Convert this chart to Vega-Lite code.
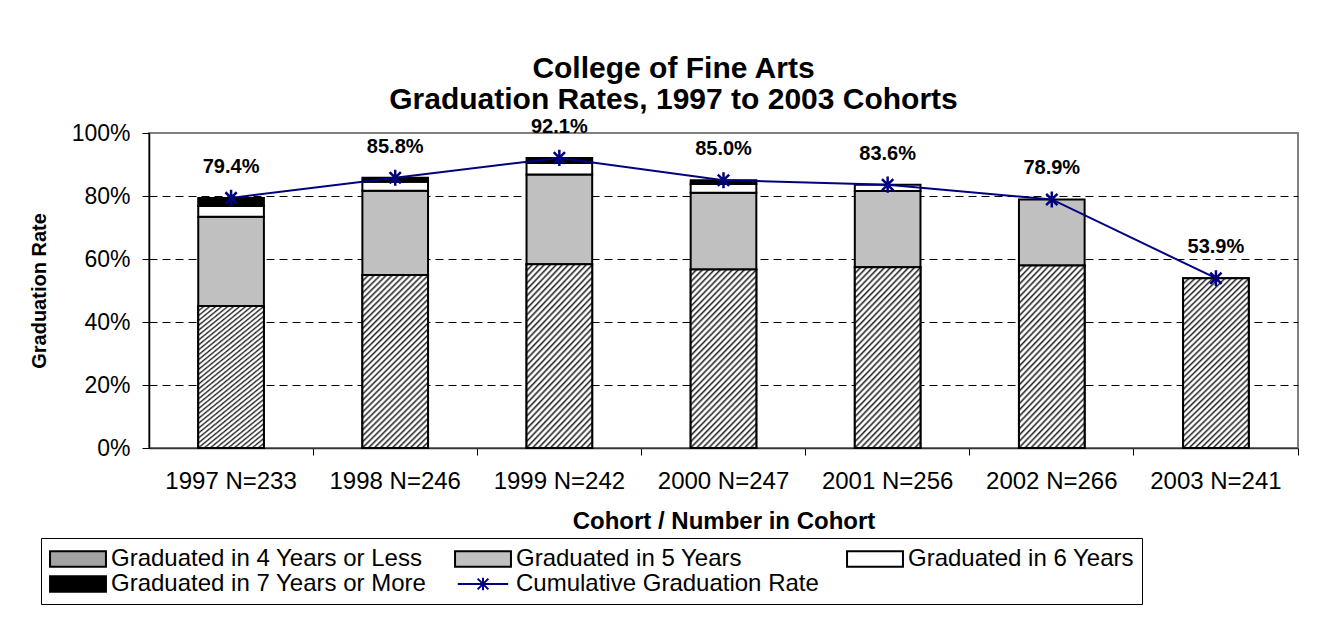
{
  "$schema": "https://vega.github.io/schema/vega-lite/v6.json",
  "autosize": "none",
  "width": 1149,
  "height": 315,
  "padding": {"left": 149, "top": 133, "right": 45, "bottom": 174},
  "background": "white",
  "config": {
    "font": "Liberation Sans",
    "view": {"stroke": "#808080", "strokeWidth": 2}
  },
  "title": {
    "text": ["College of Fine Arts", "Graduation Rates, 1997 to 2003 Cohorts"],
    "font": "Liberation Sans",
    "fontSize": 30,
    "fontWeight": "bold",
    "color": "black",
    "anchor": "middle",
    "frame": "group",
    "dx": -50,
    "offset": 2,
    "lineHeight": 31
  },
  "data": {
    "values": [
      {"cohort": "1997 N=233", "series": "Graduated in 4 Years or Less", "rate": 0.451},
      {"cohort": "1997 N=233", "series": "Graduated in 5 Years", "rate": 0.283},
      {"cohort": "1997 N=233", "series": "Graduated in 6 Years", "rate": 0.034},
      {"cohort": "1997 N=233", "series": "Graduated in 7 Years or More", "rate": 0.026},
      {"cohort": "1997 N=233", "series": "Cumulative Graduation Rate", "rate": 0.794},
      {"cohort": "1998 N=246", "series": "Graduated in 4 Years or Less", "rate": 0.549},
      {"cohort": "1998 N=246", "series": "Graduated in 5 Years", "rate": 0.268},
      {"cohort": "1998 N=246", "series": "Graduated in 6 Years", "rate": 0.028},
      {"cohort": "1998 N=246", "series": "Graduated in 7 Years or More", "rate": 0.013},
      {"cohort": "1998 N=246", "series": "Cumulative Graduation Rate", "rate": 0.858},
      {"cohort": "1999 N=242", "series": "Graduated in 4 Years or Less", "rate": 0.583},
      {"cohort": "1999 N=242", "series": "Graduated in 5 Years", "rate": 0.285},
      {"cohort": "1999 N=242", "series": "Graduated in 6 Years", "rate": 0.037},
      {"cohort": "1999 N=242", "series": "Graduated in 7 Years or More", "rate": 0.016},
      {"cohort": "1999 N=242", "series": "Cumulative Graduation Rate", "rate": 0.921},
      {"cohort": "2000 N=247", "series": "Graduated in 4 Years or Less", "rate": 0.567},
      {"cohort": "2000 N=247", "series": "Graduated in 5 Years", "rate": 0.243},
      {"cohort": "2000 N=247", "series": "Graduated in 6 Years", "rate": 0.028},
      {"cohort": "2000 N=247", "series": "Graduated in 7 Years or More", "rate": 0.012},
      {"cohort": "2000 N=247", "series": "Cumulative Graduation Rate", "rate": 0.850},
      {"cohort": "2001 N=256", "series": "Graduated in 4 Years or Less", "rate": 0.574},
      {"cohort": "2001 N=256", "series": "Graduated in 5 Years", "rate": 0.242},
      {"cohort": "2001 N=256", "series": "Graduated in 6 Years", "rate": 0.020},
      {"cohort": "2001 N=256", "series": "Cumulative Graduation Rate", "rate": 0.836},
      {"cohort": "2002 N=266", "series": "Graduated in 4 Years or Less", "rate": 0.579},
      {"cohort": "2002 N=266", "series": "Graduated in 5 Years", "rate": 0.210},
      {"cohort": "2002 N=266", "series": "Cumulative Graduation Rate", "rate": 0.789},
      {"cohort": "2003 N=241", "series": "Graduated in 4 Years or Less", "rate": 0.539},
      {"cohort": "2003 N=241", "series": "Cumulative Graduation Rate", "rate": 0.539}
    ]
  },
  "encoding": {
    "x": {
      "field": "cohort",
      "type": "nominal",
      "sort": null,
      "scale": {"paddingInner": 0.6, "paddingOuter": 0.3},
      "axis": {
        "title": "Cohort / Number in Cohort",
        "titleFontSize": 24,
        "titleFontWeight": "bold",
        "titleColor": "black",
        "titlePadding": 16,
        "labelAngle": 0,
        "labelFontSize": 24,
        "labelColor": "black",
        "labelPadding": 14,
        "labelLimit": 400,
        "tickSize": 7,
        "tickColor": "black",
        "tickWidth": 1,
        "bandPosition": 1.75,
        "domainColor": "#333333",
        "domainWidth": 1.5,
        "grid": false
      }
    }
  },
  "layer": [
    {
      "transform": [{"filter": "datum.series !== 'Cumulative Graduation Rate'"}],
      "mark": {"type": "bar", "stroke": "black", "strokeWidth": 2},
      "encoding": {
        "y": {
          "field": "rate",
          "type": "quantitative",
          "stack": "zero",
          "scale": {"domain": [0, 1], "nice": false},
          "axis": {
            "title": "Graduation Rate",
            "titleFontSize": 20,
            "titleFontWeight": "bold",
            "titleColor": "black",
            "titlePadding": 22,
            "values": [0, 0.2, 0.4, 0.6, 0.8, 1],
            "format": ".0%",
            "labelFontSize": 23,
            "labelColor": "black",
            "labelPadding": 12,
            "tickSize": 7,
            "tickColor": "black",
            "domainColor": "black",
            "domainWidth": 1.5,
            "grid": true,
            "gridColor": "black",
            "gridDash": [8, 5],
            "gridWidth": 1,
            "gridOpacity": {"condition": {"test": "datum.value <= 0 || datum.value >= 1", "value": 0}, "value": 1}
          }
        },
        "order": {"field": "series", "type": "nominal", "sort": "ascending"},
        "fill": {
          "field": "series",
          "type": "nominal",
          "scale": {
            "domain": ["Graduated in 4 Years or Less", "Graduated in 5 Years", "Graduated in 6 Years", "Graduated in 7 Years or More", "Cumulative Graduation Rate"],
            "range": ["#a3a3a3", "#c0c0c0", "#ffffff", "#000000", "transparent"]
          },
          "legend": {
            "title": null,
            "orient": "none",
            "legendX": -108,
            "legendY": 405,
            "direction": "horizontal",
            "columns": 3,
            "columnPadding": 24,
            "rowPadding": 0,
            "padding": 8,
            "strokeColor": "black",
            "fillColor": "white",
            "labelFontSize": 24,
            "labelColor": "black",
            "labelLimit": 600,
            "symbolSize": 576,
            "symbolOffset": 16,
            "labelOffset": 20,
            "symbolStrokeWidth": 2,
            "symbolType": {"expr": "datum.value === 'Cumulative Graduation Rate' ? 'M-2.1,0H2.1M0,-0.53V0.53M-0.45,-0.45L0.45,0.45M-0.45,0.45L0.45,-0.45' : 'M-2.33,-0.64H2.33V0.64H-2.33Z'"},
            "symbolStrokeColor": {"expr": "datum.value === 'Cumulative Graduation Rate' ? '#000080' : '#000000'"}
          }
        }
      }
    },
    {
      "transform": [{"filter": "datum.series === 'Graduated in 4 Years or Less'"}],
      "mark": {
        "type": "bar",
        "stroke": "black",
        "strokeWidth": 2,
        "fill": {
          "gradient": "linear", "x1": 0, "y1": 0, "x2": 0.455, "y2": 1.206,
          "stops": [
            {"offset": 0, "color": "#222"}, {"offset": 0.01, "color": "#fff"}, {"offset": 0.017, "color": "#fff"},
            {"offset": 0.025, "color": "#222"}, {"offset": 0.035, "color": "#fff"}, {"offset": 0.042, "color": "#fff"},
            {"offset": 0.05, "color": "#222"}, {"offset": 0.06, "color": "#fff"}, {"offset": 0.067, "color": "#fff"},
            {"offset": 0.075, "color": "#222"}, {"offset": 0.085, "color": "#fff"}, {"offset": 0.092, "color": "#fff"},
            {"offset": 0.1, "color": "#222"}, {"offset": 0.11, "color": "#fff"}, {"offset": 0.117, "color": "#fff"},
            {"offset": 0.125, "color": "#222"}, {"offset": 0.135, "color": "#fff"}, {"offset": 0.142, "color": "#fff"},
            {"offset": 0.15, "color": "#222"}, {"offset": 0.16, "color": "#fff"}, {"offset": 0.167, "color": "#fff"},
            {"offset": 0.175, "color": "#222"}, {"offset": 0.185, "color": "#fff"}, {"offset": 0.192, "color": "#fff"},
            {"offset": 0.2, "color": "#222"}, {"offset": 0.21, "color": "#fff"}, {"offset": 0.217, "color": "#fff"},
            {"offset": 0.225, "color": "#222"}, {"offset": 0.235, "color": "#fff"}, {"offset": 0.242, "color": "#fff"},
            {"offset": 0.25, "color": "#222"}, {"offset": 0.26, "color": "#fff"}, {"offset": 0.267, "color": "#fff"},
            {"offset": 0.275, "color": "#222"}, {"offset": 0.285, "color": "#fff"}, {"offset": 0.292, "color": "#fff"},
            {"offset": 0.3, "color": "#222"}, {"offset": 0.31, "color": "#fff"}, {"offset": 0.317, "color": "#fff"},
            {"offset": 0.325, "color": "#222"}, {"offset": 0.335, "color": "#fff"}, {"offset": 0.342, "color": "#fff"},
            {"offset": 0.35, "color": "#222"}, {"offset": 0.36, "color": "#fff"}, {"offset": 0.367, "color": "#fff"},
            {"offset": 0.375, "color": "#222"}, {"offset": 0.385, "color": "#fff"}, {"offset": 0.392, "color": "#fff"},
            {"offset": 0.4, "color": "#222"}, {"offset": 0.41, "color": "#fff"}, {"offset": 0.417, "color": "#fff"},
            {"offset": 0.425, "color": "#222"}, {"offset": 0.435, "color": "#fff"}, {"offset": 0.442, "color": "#fff"},
            {"offset": 0.45, "color": "#222"}, {"offset": 0.46, "color": "#fff"}, {"offset": 0.467, "color": "#fff"},
            {"offset": 0.475, "color": "#222"}, {"offset": 0.485, "color": "#fff"}, {"offset": 0.492, "color": "#fff"},
            {"offset": 0.5, "color": "#222"}, {"offset": 0.51, "color": "#fff"}, {"offset": 0.517, "color": "#fff"},
            {"offset": 0.525, "color": "#222"}, {"offset": 0.535, "color": "#fff"}, {"offset": 0.542, "color": "#fff"},
            {"offset": 0.55, "color": "#222"}, {"offset": 0.56, "color": "#fff"}, {"offset": 0.567, "color": "#fff"},
            {"offset": 0.575, "color": "#222"}, {"offset": 0.585, "color": "#fff"}, {"offset": 0.592, "color": "#fff"},
            {"offset": 0.6, "color": "#222"}, {"offset": 0.61, "color": "#fff"}, {"offset": 0.617, "color": "#fff"},
            {"offset": 0.625, "color": "#222"}, {"offset": 0.635, "color": "#fff"}, {"offset": 0.642, "color": "#fff"},
            {"offset": 0.65, "color": "#222"}, {"offset": 0.66, "color": "#fff"}, {"offset": 0.667, "color": "#fff"},
            {"offset": 0.675, "color": "#222"}, {"offset": 0.685, "color": "#fff"}, {"offset": 0.692, "color": "#fff"},
            {"offset": 0.7, "color": "#222"}, {"offset": 0.71, "color": "#fff"}, {"offset": 0.717, "color": "#fff"},
            {"offset": 0.725, "color": "#222"}, {"offset": 0.735, "color": "#fff"}, {"offset": 0.742, "color": "#fff"},
            {"offset": 0.75, "color": "#222"}, {"offset": 0.76, "color": "#fff"}, {"offset": 0.767, "color": "#fff"},
            {"offset": 0.775, "color": "#222"}, {"offset": 0.785, "color": "#fff"}, {"offset": 0.792, "color": "#fff"},
            {"offset": 0.8, "color": "#222"}, {"offset": 0.81, "color": "#fff"}, {"offset": 0.817, "color": "#fff"},
            {"offset": 0.825, "color": "#222"}, {"offset": 0.835, "color": "#fff"}, {"offset": 0.842, "color": "#fff"},
            {"offset": 0.85, "color": "#222"}, {"offset": 0.86, "color": "#fff"}, {"offset": 0.867, "color": "#fff"},
            {"offset": 0.875, "color": "#222"}, {"offset": 0.885, "color": "#fff"}, {"offset": 0.892, "color": "#fff"},
            {"offset": 0.9, "color": "#222"}, {"offset": 0.91, "color": "#fff"}, {"offset": 0.917, "color": "#fff"},
            {"offset": 0.925, "color": "#222"}, {"offset": 0.935, "color": "#fff"}, {"offset": 0.942, "color": "#fff"},
            {"offset": 0.95, "color": "#222"}, {"offset": 0.96, "color": "#fff"}, {"offset": 0.967, "color": "#fff"},
            {"offset": 0.975, "color": "#222"}, {"offset": 0.985, "color": "#fff"}, {"offset": 0.992, "color": "#fff"},
            {"offset": 1, "color": "#222"}
          ]
        }
      },
      "encoding": {
        "y": {"field": "rate", "type": "quantitative", "stack": null}
      }
    },
    {
      "transform": [{"filter": "datum.series === 'Cumulative Graduation Rate'"}],
      "mark": {"type": "line", "color": "#000080", "strokeWidth": 2},
      "encoding": {
        "y": {"field": "rate", "type": "quantitative"}
      }
    },
    {
      "transform": [{"filter": "datum.series === 'Cumulative Graduation Rate'"}],
      "mark": {
        "type": "point",
        "shape": "M0,-1V1M-0.7,-0.7L0.7,0.7M-0.7,0.7L0.7,-0.7",
        "filled": false,
        "stroke": "#000080",
        "strokeWidth": 2.5,
        "size": 260,
        "opacity": 1
      },
      "encoding": {
        "y": {"field": "rate", "type": "quantitative"}
      }
    },
    {
      "transform": [{"filter": "datum.series === 'Cumulative Graduation Rate'"}],
      "mark": {"type": "text", "dy": -31, "fontSize": 20, "fontWeight": "bold", "color": "black"},
      "encoding": {
        "y": {"field": "rate", "type": "quantitative"},
        "text": {"field": "rate", "type": "quantitative", "format": ".1%"}
      }
    }
  ]
}
